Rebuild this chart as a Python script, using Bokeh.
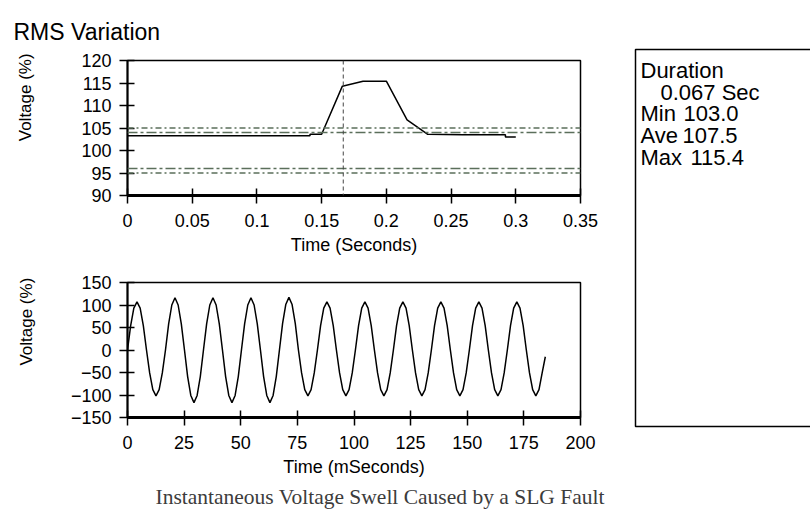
from bokeh.plotting import figure
from bokeh.layouts import row, column
from bokeh.models import Range1d, FixedTicker, Title, Span
from bokeh.embed import file_html
from bokeh.resources import INLINE
from bokeh.core.properties import value

# ---------------- data ----------------
RMS_TIME_S = [0.000, 0.141, 0.141, 0.150, 0.166, 0.182, 0.200, 0.216, 0.232, 0.259, 0.292, 0.292, 0.300]
RMS_PCT    = [103.3, 103.3, 103.6, 103.6, 114.3, 115.4, 115.4, 106.8, 103.6, 103.5, 103.5, 103.0, 103.0]
DASHED_LEVELS = [105, 95]
DASHDOT_LEVELS = [104, 96]
EVENT_TIME_S = 0.1667

TOP_X_TICKS = [0, 0.05, 0.1, 0.15, 0.2, 0.25, 0.3, 0.35]
TOP_X_LABELS = ["0", "0.05", "0.1", "0.15", "0.2", "0.25", "0.3", "0.35"]
TOP_Y_TICKS = [90, 95, 100, 105, 110, 115, 120]
TOP_Y_LABELS = ["90", "95", "100", "105", "110", "115", "120"]

BOT_X_TICKS = [0, 25, 50, 75, 100, 125, 150, 175, 200]
BOT_X_LABELS = ["0", "25", "50", "75", "100", "125", "150", "175", "200"]
BOT_Y_TICKS = [-150, -100, -50, 0, 50, 100, 150]
BOT_Y_LABELS = ["\u2212150", "\u2212100", "\u221250", "0", "50", "100", "150"]

WAVE_STEP_MS = 1.3975
WAVE_PCT = [
    0, 54, 93, 107, 93, 54, 0, -51, -88, -102, -88, -51,
    0, 58, 100, 116, 100, 58, 0, -59, -101, -117, -101, -59,
    0, 58, 100, 116, 100, 58, 0, -59, -101, -117, -101, -59,
    0, 58, 100, 116, 100, 58, 0, -59, -101, -117, -101, -59,
    0, 59, 101, 117, 101, 59, 0, -51, -88, -102, -88, -51,
    0, 54, 93, 107, 93, 54, 0, -51, -88, -102, -88, -51,
    0, 54, 93, 107, 93, 54, 0, -51, -88, -102, -88, -51,
    0, 54, 93, 107, 93, 54, 0, -51, -88, -102, -88, -51,
    0, 54, 93, 107, 93, 54, 0, -51, -88, -102, -88, -51,
    0, 54, 93, 107, 93, 54, 0, -51, -88, -102, -88, -51,
    0, 54, 93, 107, 93, 54, 0, -51, -88, -102, -88, -51,
    -15,
]
WAVE_TIME_MS = [i * WAVE_STEP_MS for i in range(len(WAVE_PCT))]

DURATION_S = "0.067"
STAT_NAMES = ["Min", "Ave", "Max"]
STAT_VALUES = ["103.0", "107.5", "115.4"]

CAPTION = "Instantaneous Voltage Swell Caused by a SLG Fault"
Y_LABEL = "Voltage (%)"

# ---------------- style ----------------
FONT = "Liberation Sans"
THRESH_COLOR = "#5b6f5b"
NBSP = "\u00a0"
LEFT_W = 630
SIDE_W = 180


def style(p, xticks, xlabels, yticks, ylabels, xlabel, ylabel):
    p.xgrid.visible = False
    p.ygrid.visible = False
    p.outline_line_color = "black"
    p.outline_line_width = 1.5
    p.background_fill_color = "white"
    p.border_fill_color = "white"
    for ax in (p.xaxis[0], p.yaxis[0]):
        ax.major_tick_line_color = "black"
        ax.major_tick_line_width = 1.5
        ax.minor_tick_line_color = None
        ax.major_tick_in = 7
        ax.major_tick_out = 8
        ax.major_label_text_font = FONT
        ax.major_label_text_font_size = "18px"
        ax.major_label_text_color = "black"
        ax.axis_label_text_font = FONT
        ax.axis_label_text_font_style = "normal"
        ax.axis_label_text_color = "black"
    xa, ya = p.xaxis[0], p.yaxis[0]
    xa.ticker = FixedTicker(ticks=xticks)
    xa.major_label_overrides = dict(zip(xticks, xlabels))
    ya.ticker = FixedTicker(ticks=yticks)
    ya.major_label_overrides = dict(zip(yticks, ylabels))
    xa.axis_line_width = 3
    ya.axis_line_width = 2
    xa.major_label_standoff = 10
    ya.major_label_standoff = 8
    xa.axis_label = xlabel
    xa.axis_label_text_font_size = "18px"
    xa.axis_label_standoff = 5
    ya.axis_label = ylabel
    ya.axis_label_text_font_size = "17px"


# ---------------- top: RMS variation ----------------
top = figure(width=LEFT_W, height=265, x_range=Range1d(0, 0.35), y_range=Range1d(90, 120),
             output_backend="svg", toolbar_location=None,
             min_border_left=127, min_border_right=LEFT_W - 580,
             min_border_top=59, min_border_bottom=70)
style(top, TOP_X_TICKS, TOP_X_LABELS, TOP_Y_TICKS, TOP_Y_LABELS,
      "Time (Seconds)", NBSP * 13 + Y_LABEL)
top.yaxis[0].axis_label_standoff = 43
top.title.text = "RMS Variation"
top.title.text_font = FONT
top.title.text_font_size = "23px"
top.title.text_font_style = "normal"
top.title.text_color = "black"
top.title.align = "left"
top.title.offset = -114
top.title.standoff = 32

for lv in DASHED_LEVELS:
    top.add_layout(Span(location=lv, dimension="width", line_color=THRESH_COLOR,
                        line_width=1.3, line_dash="6 3 2 3"))
for lv in DASHDOT_LEVELS:
    top.add_layout(Span(location=lv, dimension="width", line_color=THRESH_COLOR,
                        line_width=1.3, line_dash="10 3 3 3"))
top.add_layout(Span(location=EVENT_TIME_S, dimension="height", line_color="#444444",
                    line_width=1, line_dash="4 3"))
top.line(RMS_TIME_S, RMS_PCT, line_color="black", line_width=1.5)

# ---------------- bottom: waveform ----------------
bot = figure(width=LEFT_W, height=247, x_range=Range1d(0, 200), y_range=Range1d(-150, 150),
             output_backend="svg", toolbar_location=None,
             min_border_left=127, min_border_right=LEFT_W - 580,
             min_border_top=17, min_border_bottom=94)
style(bot, BOT_X_TICKS, BOT_X_LABELS, BOT_Y_TICKS, BOT_Y_LABELS,
      "Time (mSeconds)", NBSP * 12 + Y_LABEL)
bot.yaxis[0].axis_label_standoff = 32
bot.line(WAVE_TIME_MS, WAVE_PCT, line_color="black", line_width=1.5)
cap = Title(text=CAPTION, align="left", offset=28, standoff=7,
            text_font="Liberation Serif", text_font_size="21.5px",
            text_font_style="normal", text_color="#3c3c3c")
bot.add_layout(cap, "below")

# ---------------- right: statistics box ----------------
side = figure(width=SIDE_W, height=512, x_range=Range1d(0, SIDE_W), y_range=Range1d(512, 0),
              output_backend="svg", toolbar_location=None,
              x_axis_location=None, y_axis_location=None,
              min_border=0, min_border_left=0, min_border_right=0,
              min_border_top=0, min_border_bottom=0)
side.xgrid.visible = False
side.ygrid.visible = False
side.outline_line_color = None
side.background_fill_color = "white"
side.border_fill_color = "white"
side.quad(left=[5], right=[400], top=[49], bottom=[426],
          fill_color=None, line_color="black", line_width=1.5)

box_texts = ["Duration", DURATION_S + " Sec"] + STAT_NAMES + STAT_VALUES
box_x = [10, 30, 10, 10, 10, 53, 52, 60]
box_y = [70, 91.7, 113.3, 135, 156.7, 113.3, 135, 156.7]
side.text(x=box_x, y=box_y, text=box_texts, text_font=value(FONT),
          text_font_size="22px", text_baseline="alphabetic", text_align="left",
          text_color="black")

layout = row(column(top, bot), side)
open("out.html", "w").write(file_html(layout, INLINE))
